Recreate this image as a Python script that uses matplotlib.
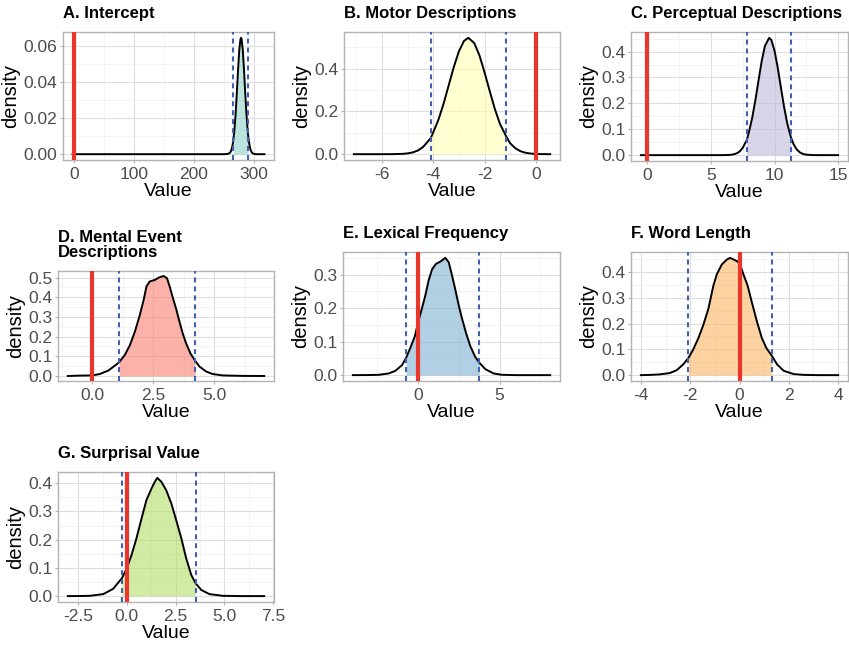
import numpy as np
import matplotlib
matplotlib.use("Agg")
import matplotlib.pyplot as plt
from matplotlib.ticker import FixedLocator, FixedFormatter

plt.rcParams['font.family'] = ['Liberation Sans', 'DejaVu Sans']
plt.rcParams['axes.unicode_minus'] = False

# ---------------- data ----------------
titles = ["A. Intercept", "B. Motor Descriptions", "C. Perceptual Descriptions",
          "D. Mental Event\nDescriptions", "E. Lexical Frequency", "F. Word Length",
          "G. Surprisal Value"]

a_x = [-2, 250, 256, 260, 262, 264, 266, 268, 270, 272, 274, 276, 278, 279, 280, 282, 284,
       286, 288, 290, 291, 292, 294, 296, 298, 300, 304, 318]
a_d = [0, 0, 0.0001, 0.0006, 0.0015, 0.0035, 0.0072, 0.0134, 0.0225, 0.0341, 0.0466,
       0.0574, 0.0637, 0.0645, 0.0637, 0.0574, 0.0466, 0.0341, 0.0225, 0.0134, 0.0099,
       0.0072, 0.0035, 0.0015, 0.0006, 0.0002, 0, 0]

b_x = [-7.1, -6.0, -5.6, -5.2, -5.0, -4.8, -4.6, -4.4, -4.2, -4.1, -4.0, -3.8, -3.6, -3.4,
       -3.2, -3.0, -2.8, -2.63, -2.4, -2.2, -2.0, -1.8, -1.6, -1.4, -1.15, -1.0, -0.8,
       -0.6, -0.4, -0.2, 0.0, 0.2, 0.56]
b_d = [0, 0, 0.0002, 0.0015, 0.0037, 0.0083, 0.0173, 0.0336, 0.061, 0.075, 0.103, 0.161,
       0.236, 0.322, 0.408, 0.482, 0.531, 0.545, 0.520, 0.463, 0.383, 0.296, 0.212, 0.142,
       0.082, 0.051, 0.0278, 0.014, 0.0066, 0.0029, 0.0012, 0.0004, 0]

c_x = [-0.5, 5.0, 6.0, 6.5, 6.75, 7.0, 7.25, 7.5, 7.82, 8.0, 8.25, 8.5, 8.75, 9.0, 9.25,
       9.58, 9.75, 10.0, 10.25, 10.5, 10.75, 11.0, 11.29, 11.5, 11.75, 12.0, 12.25, 12.5,
       13.0, 14.0, 15.0]
c_d = [0, 0, 0.0001, 0.001, 0.0026, 0.0062, 0.0136, 0.0277, 0.058, 0.0905, 0.1446, 0.2134,
       0.290, 0.365, 0.422, 0.453, 0.445, 0.404, 0.339, 0.262, 0.187, 0.123, 0.069, 0.0419,
       0.0217, 0.0103, 0.0045, 0.0018, 0.0002, 0, 0]

d_x = [-1.0, -0.5, 0.0, 0.31, 0.65, 0.93, 1.10, 1.33, 1.54, 1.74, 1.94, 2.11, 2.22, 2.35,
       2.56, 2.76, 2.92, 3.06, 3.17, 3.30, 3.44, 3.58, 3.71, 3.85, 4.02, 4.21, 4.39, 4.66,
       4.93, 5.34, 5.61, 6.2, 7.04]
d_d = [0, 0.002, 0.003, 0.01, 0.027, 0.053, 0.07, 0.106, 0.156, 0.223, 0.306, 0.389, 0.455,
       0.48, 0.488, 0.502, 0.508, 0.497, 0.455, 0.397, 0.339, 0.272, 0.214, 0.164, 0.115,
       0.078, 0.048, 0.023, 0.01, 0.003, 0.002, 0.0005, 0]

e_x = [-4.0, -3.0, -2.41, -1.80, -1.39, -0.98, -0.73, -0.47, -0.20, 0.04, 0.24, 0.45, 0.65,
       0.86, 1.10, 1.37, 1.67, 1.88, 2.08, 2.29, 2.49, 2.69, 2.94, 3.20, 3.51, 3.76, 4.12,
       4.63, 5.14, 6.0, 8.1]
e_d = [0, 0.0003, 0.001, 0.005, 0.013, 0.03, 0.052, 0.082, 0.116, 0.165, 0.20, 0.239, 0.283,
       0.316, 0.332, 0.339, 0.350, 0.337, 0.298, 0.254, 0.209, 0.170, 0.126, 0.087, 0.054,
       0.037, 0.018, 0.005, 0.001, 0, 0]

f_x = [-4.0, -3.6, -3.23, -2.83, -2.55, -2.28, -2.07, -1.88, -1.67, -1.47, -1.26, -1.06,
       -0.92, -0.72, -0.52, -0.38, -0.18, 0.0, 0.16, 0.33, 0.50, 0.71, 0.91, 1.09, 1.32,
       1.52, 1.79, 2.20, 2.61, 3.2, 4.0]
f_d = [0, 0.001, 0.003, 0.008, 0.019, 0.042, 0.067, 0.099, 0.143, 0.194, 0.258, 0.347,
       0.391, 0.429, 0.448, 0.455, 0.446, 0.436, 0.391, 0.347, 0.283, 0.207, 0.143, 0.105,
       0.074, 0.042, 0.017, 0.004, 0.001, 0, 0]

g_x = [-3.03, -2.4, -1.89, -1.21, -0.70, -0.25, 0.0, 0.24, 0.49, 0.75, 1.0, 1.26, 1.43,
       1.56, 1.77, 2.02, 2.28, 2.53, 2.79, 3.04, 3.30, 3.52, 3.81, 4.23, 4.91, 5.8, 7.04]
g_d = [0, 0.0003, 0.001, 0.007, 0.026, 0.064, 0.099, 0.146, 0.205, 0.275, 0.34, 0.381, 0.405,
       0.419, 0.405, 0.375, 0.328, 0.269, 0.205, 0.134, 0.075, 0.046, 0.022, 0.007, 0.001,
       0, 0]

ci_low = [266, -4.1, 7.82, 1.10, -0.73, -2.07, -0.25]
ci_high = [291, -1.15, 11.29, 4.21, 3.76, 1.32, 3.52]

fill_colors = ["#8DD3C7", "#FFFFB3", "#BEBADA", "#FB8072", "#80B1D3", "#FDB462", "#B3DE69"]

x_major = [[0, 100, 200, 300], [-6, -4, -2, 0], [0, 5, 10, 15], [0.0, 2.5, 5.0],
           [0, 5], [-4, -2, 0, 2, 4], [-2.5, 0.0, 2.5, 5.0, 7.5]]
x_minor = [[50, 150, 250], [-7, -5, -3, -1], [2.5, 7.5, 12.5], [-1.25, 1.25, 3.75, 6.25],
           [-2.5, 2.5, 7.5], [-3, -1, 1, 3], [-1.25, 1.25, 3.75, 6.25]]
x_fmt = ["{:.0f}", "{:.0f}", "{:.0f}", "{:.1f}", "{:.0f}", "{:.0f}", "{:.1f}"]

y_major = [[0, 0.02, 0.04, 0.06], [0, 0.2, 0.4], [0, 0.1, 0.2, 0.3, 0.4],
           [0, 0.1, 0.2, 0.3, 0.4, 0.5], [0, 0.1, 0.2, 0.3], [0, 0.1, 0.2, 0.3, 0.4],
           [0, 0.1, 0.2, 0.3, 0.4]]
y_fmt = ["{:.2f}", "{:.1f}", "{:.1f}", "{:.1f}", "{:.1f}", "{:.1f}", "{:.1f}"]

series_x = [a_x, b_x, c_x, d_x, e_x, f_x, g_x]
series_d = [a_d, b_d, c_d, d_d, e_d, f_d, g_d]

# ---------------- layout ----------------
W, H = 849, 648
boxes = [(63, 32, 274, 160), (344, 32, 560, 160), (631, 32, 848, 161),
         (58, 271, 274, 381), (343, 252, 560, 381), (631, 252, 848, 381),
         (58, 472, 274, 602)]

fig = plt.figure(figsize=(W / 100, H / 100), dpi=100)

for i in range(7):
    l, t, r, b = boxes[i]
    ax = fig.add_axes([l / W, 1 - b / H, (r - l) / W, (b - t) / H])
    x = np.array(series_x[i], dtype=float)
    d = np.array(series_d[i], dtype=float)
    lo, hi = ci_low[i], ci_high[i]
    mask = (x >= lo - 1e-9) & (x <= hi + 1e-9)
    ax.fill_between(x, 0, d, where=mask, color=fill_colors[i], alpha=0.6, lw=0, zorder=2)
    ax.plot(x, d, color="black", lw=1.4, zorder=3, solid_joinstyle="round")
    for v in (lo, hi):
        ax.axvline(v, color="#4062AE", lw=1.5, ls=(0, (2.4, 1.9)), zorder=4)
    ax.axvline(0, color="#E8362C", lw=3.0, zorder=5)

    xr = x.max() - x.min()
    ax.set_xlim(x.min() - 0.05 * xr, x.max() + 0.05 * xr)
    ym = d.max()
    ax.set_ylim(-0.05 * ym, 1.05 * ym)

    ax.xaxis.set_major_locator(FixedLocator(x_major[i]))
    ax.xaxis.set_major_formatter(FixedFormatter([x_fmt[i].format(v) for v in x_major[i]]))
    ax.xaxis.set_minor_locator(FixedLocator(x_minor[i]))
    ym_ticks = y_major[i]
    step = ym_ticks[1] - ym_ticks[0]
    y_minor = [v + step / 2 for v in ym_ticks] + [ym_ticks[0] - step / 2]
    ax.yaxis.set_major_locator(FixedLocator(ym_ticks))
    ax.yaxis.set_major_formatter(FixedFormatter([y_fmt[i].format(v) for v in ym_ticks]))
    ax.yaxis.set_minor_locator(FixedLocator(y_minor))

    ax.grid(True, which="major", color="#DEDEDE", lw=0.8, zorder=0)
    ax.grid(True, which="minor", color="#EFEFEF", lw=0.5, zorder=0)
    ax.set_axisbelow(True)
    for s in ax.spines.values():
        s.set_color("#B3B3B3")
        s.set_linewidth(1.0)
    ax.tick_params(which="major", length=2.5, width=0.8, color="#B3B3B3",
                   labelcolor="#4D4D4D", labelsize=12.5)
    ax.tick_params(axis="x", which="major", pad=2.5)
    ax.tick_params(axis="y", which="major", pad=1.5)
    ax.tick_params(which="minor", length=0)

    ax.set_xlabel("Value", fontsize=14, labelpad=0.5)
    ax.set_ylabel("density", fontsize=14.5, labelpad=2.5)
    ax.set_title(titles[i], loc="left", fontsize=12, fontweight="bold", pad=10,
                 linespacing=1.0)

fig.savefig("out.png", dpi=100)
